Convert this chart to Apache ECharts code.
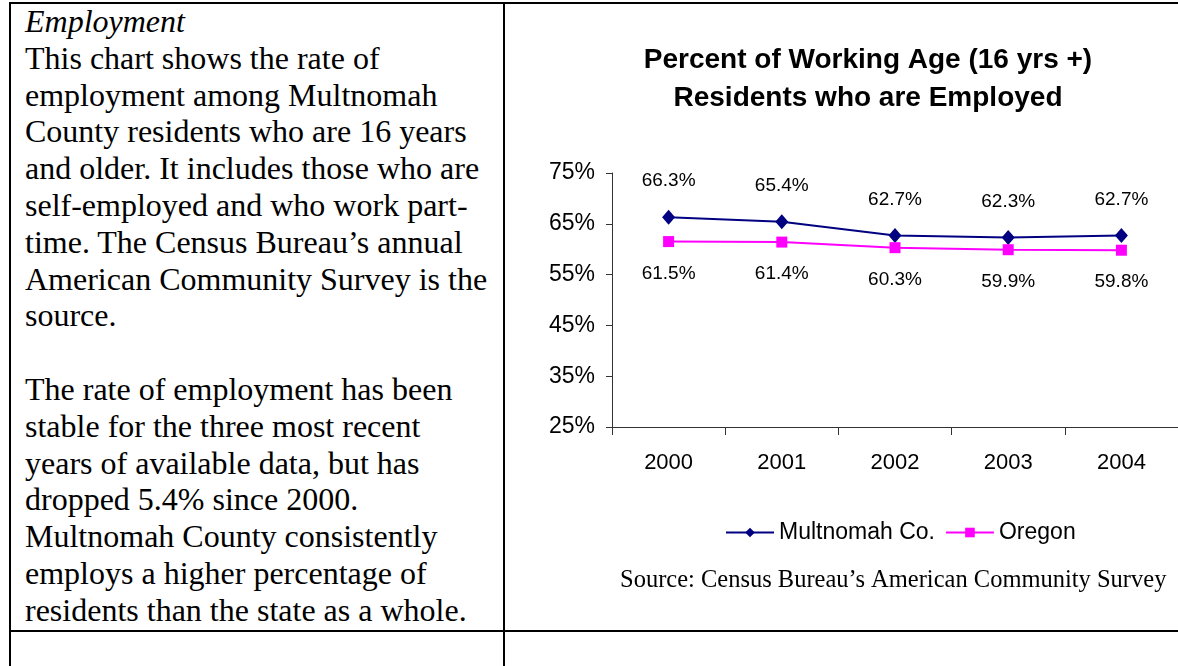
<!DOCTYPE html>
<html>
<head>
<meta charset="utf-8">
<script src="https://cdn.jsdelivr.net/npm/echarts@6/dist/echarts.min.js"></script>
<style>
  html, body { margin: 0; padding: 0; background: #fff; }
  body { width: 1178px; height: 666px; position: relative; overflow: hidden; }
  .ln { position: absolute; background: #000; }
  #txt { position: absolute; left: 25px; top: 3px; font-family: "Liberation Serif", "Times New Roman", serif;
         font-size: 32px; line-height: 36.8px; color: #000; white-space: nowrap; }
  #chart { position: absolute; left: 0; top: 0; width: 1178px; height: 666px; }
</style>
</head>
<body>
<div class="ln" style="left:9px;top:2px;width:1169px;height:2px;"></div>
<div class="ln" style="left:9px;top:2px;width:2px;height:664px;"></div>
<div class="ln" style="left:503px;top:2px;width:2px;height:664px;"></div>
<div class="ln" style="left:9px;top:630px;width:1169px;height:2px;"></div>
<div id="txt"><i>Employment</i><br>This chart shows the rate of<br>employment among Multnomah<br>County residents who are 16 years<br>and older. It includes those who are<br>self-employed and who work part-<br>time. The Census Bureau’s annual<br>American Community Survey is the<br>source.<br>&nbsp;<br>The rate of employment has been<br>stable for the three most recent<br>years of available data, but has<br>dropped 5.4% since 2000.<br>Multnomah County consistently<br>employs a higher percentage of<br>residents than the state as a whole.</div>
<div id="chart"></div>
<script>
const years = ['2000', '2001', '2002', '2003', '2004'];
const multnomah = [66.3, 65.4, 62.7, 62.3, 62.7];
const oregon = [61.5, 61.4, 60.3, 59.9, 59.8];
const yTicks = [25, 35, 45, 55, 65, 75];
const seriesNames = ['Multnomah Co.', 'Oregon'];
const titleText = 'Percent of Working Age (16 yrs +)\nResidents who are Employed';
const sourceText = 'Source: Census Bureau’s American Community Survey';

const sans = '"Liberation Sans", Arial, sans-serif';
const chart = echarts.init(document.getElementById('chart'), null, { renderer: 'canvas' });
const pct = p => p.value.toFixed(1) + '%';
chart.setOption({
  animation: false,
  backgroundColor: 'transparent',
  title: {
    text: titleText, left: 863, top: 36, textAlign: 'center',
    textStyle: { fontFamily: sans, fontSize: 28, fontWeight: 'bold', lineHeight: 38, color: '#000' }
  },
  legend: {
    data: seriesNames, left: 720, top: 516, itemWidth: 48, itemHeight: 12, itemGap: 10,
    textStyle: { fontFamily: sans, fontSize: 23, color: '#000' }
  },
  graphic: [{
    type: 'text', left: 620, top: 568,
    style: { text: sourceText, font: '24.5px "Liberation Serif", "Times New Roman", serif', fill: '#000' }
  }],
  grid: { left: 612, top: 173, width: 575, height: 254 },
  xAxis: {
    type: 'category', data: years, boundaryGap: true,
    axisLine: { lineStyle: { color: '#333', width: 1 } },
    axisTick: { show: true, length: 8, interval: 0, lineStyle: { color: '#333' } },
    axisLabel: { fontFamily: sans, fontSize: 22, color: '#000', margin: 25 }
  },
  yAxis: {
    type: 'value', min: 25, max: 75, interval: 5,
    axisLine: { show: true, lineStyle: { color: '#333', width: 1 } },
    axisTick: { show: true, length: 6, customValues: yTicks, lineStyle: { color: '#333' } },
    axisLabel: { fontFamily: sans, fontSize: 23, color: '#000', margin: 17, customValues: yTicks, formatter: '{value}%' },
    splitLine: { show: false }
  },
  series: [
    {
      name: seriesNames[0], type: 'line', data: multnomah,
      symbol: 'diamond', symbolSize: [13, 15], color: '#000080',
      lineStyle: { color: '#000080', width: 2 }, itemStyle: { color: '#000080' },
      label: { show: true, position: 'top', distance: 19, fontFamily: sans, fontSize: 19, color: '#000', formatter: pct }
    },
    {
      name: seriesNames[1], type: 'line', data: oregon,
      symbol: 'rect', symbolSize: [11, 11], color: '#FF00FF',
      lineStyle: { color: '#FF00FF', width: 2 }, itemStyle: { color: '#FF00FF' },
      label: { show: true, position: 'bottom', distance: 17, fontFamily: sans, fontSize: 19, color: '#000', formatter: pct }
    }
  ]
});
</script>
</body>
</html>
